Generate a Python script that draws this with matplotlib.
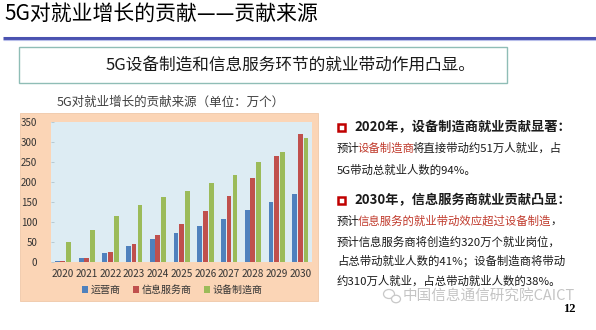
import numpy as np
import matplotlib
matplotlib.use('Agg')
import matplotlib.pyplot as plt
from matplotlib.patches import Rectangle, Ellipse

plt.rcParams['font.family'] = ['Noto Sans CJK SC', 'DejaVu Sans']

# jobs created by 5G, in 10k people
years = ['2020', '2021', '2022', '2023', '2024', '2025', '2026', '2027', '2028', '2029', '2030']
operators = [1.5, 9, 22, 40, 57, 73, 90, 107, 129, 149, 169]
info_services = [1.5, 9, 24, 44, 68, 95, 127, 165, 211, 264, 320]
equipment = [51, 80, 115, 142, 163, 178, 197, 218, 250, 274, 310]
series_names = ['运营商', '信息服务商', '设备制造商']
series_colors = ['#4F81BD', '#C0504D', '#9BBB59']
yticks = [0, 50, 100, 150, 200, 250, 300, 350]

W, H = 596, 330
fig = plt.figure(figsize=(W / 100, H / 100), dpi=100)
fig.patch.set_facecolor('white')

# page layer in pixel coordinates
bg = fig.add_axes([0, 0, 1, 1])
bg.set_xlim(0, W)
bg.set_ylim(H, 0)
bg.axis('off')

red = '#C0392B'
dark = '#1a1a1a'

bg.text(4, 14, '5G对就业增长的贡献——贡献来源', fontsize=15, color='black', va='center', ha='left')
bg.plot([3, W], [37.5, 37.5], color='#4A52B0', lw=2.2, solid_capstyle='butt')
bg.plot([3, W], [40, 40], color='#B8BEEA', lw=0.8, solid_capstyle='butt')

bg.add_patch(Rectangle((19, 47), 488, 36, facecolor='white', edgecolor='#8FBDB6', lw=1))
bg.text(290, 65, '5G设备制造和信息服务环节的就业带动作用凸显。', fontsize=12, color=dark,
        ha='center', va='center')

# chart frame
bg.add_patch(Rectangle((20, 113), 298, 188, facecolor='#FBD5B6', edgecolor='#F0C8A8', lw=0.6))
bg.text(57, 102, '5G对就业增长的贡献来源（单位：万个）', fontsize=9, color='#404040', va='center')


def write_line(x, y, parts, size, weight='normal'):
    # pieces of one line, each starting where the previous one ends
    prev = None
    for s, c in parts:
        if prev is None:
            prev = bg.text(x, y, s, fontsize=size, color=c, weight=weight, va='center', ha='left')
        else:
            shift = -0.3 if s[0] in '，。' else -1.3
            prev = bg.annotate(s, xy=(1, 0.5), xycoords=prev, xytext=(shift, 0),
                               textcoords='offset points', fontsize=size, color=c,
                               weight=weight, va='center', ha='left')


def bullet(x, y):
    bg.add_patch(Rectangle((x - 3.5, y - 3.5), 7, 7, facecolor='white', edgecolor='#C00000', lw=1.8))


body = 8.2
bullet(341, 127)
write_line(354, 127, [('2020年，设备制造商就业贡献显著：', dark)], 9.5, 'bold')
write_line(337, 148, [('预计', dark), ('设备制造商', red), ('将直接带动约51万人就业，占', dark)], body)
write_line(337, 170, [('5G带动总就业人数的94%。', dark)], body)

bullet(341, 200)
write_line(354, 200, [('2030年，信息服务商就业贡献凸显：', dark)], 9.5, 'bold')
write_line(337, 221, [('预计', dark), ('信息服务的就业带动效应超过设备制造', red), ('，', dark)], body)
write_line(337, 242, [('预计信息服务商将创造约320万个就业岗位，', dark)], body)
write_line(337, 261, [('占总带动就业人数的41%；设备制造商将带动', dark)], body)
write_line(337, 281, [('约310万人就业，占总带动就业人数的38%。', dark)], body)

# watermark
bg.add_patch(Ellipse((389, 294), 11, 9, facecolor='none', edgecolor='#C8C8C8', lw=0.9))
bg.add_patch(Ellipse((396, 299), 9, 7.5, facecolor='white', edgecolor='#C8C8C8', lw=0.9))
bg.text(403, 296, '中国信息通信研究院CAICT', fontsize=10.5, color='#C4C4C4', va='center')
bg.text(576, 309, '12', fontsize=9, weight='bold', family='Liberation Serif', ha='right', va='center')

# bar chart
ax = fig.add_axes([51 / W, 1 - 262 / H, 261 / W, 140 / H])
ax.set_facecolor('#DDECF3')
x = np.arange(len(years))
width = 0.2
offsets = [-0.23, 0, 0.25]
for vals, name, col, off in zip([operators, info_services, equipment], series_names, series_colors, offsets):
    ax.bar(x + off, vals, width, color=col, label=name, zorder=2)

ax.set_xlim(-0.5, len(years) - 0.5)
ax.set_ylim(0, 350)
ax.set_yticks(yticks)
ax.set_xticks(x)
ax.set_xticklabels(years)
ax.tick_params(axis='x', length=0, labelsize=7.2, colors='#333333', pad=5)
ax.tick_params(axis='y', direction='in', length=2.5, width=0.6, color='#B0C4CC',
               labelsize=7, labelcolor='#333333', pad=10)
for sp in ax.spines.values():
    sp.set_visible(False)

fig.legend(loc='center', bbox_to_anchor=(172 / W, 1 - 290 / H), ncol=3, frameon=False,
           fontsize=7.2, handlelength=0.6, handleheight=0.6, handletextpad=0.3, columnspacing=1.2,
           labelcolor='#333333')

fig.savefig('out.png', dpi=100, facecolor='white')
